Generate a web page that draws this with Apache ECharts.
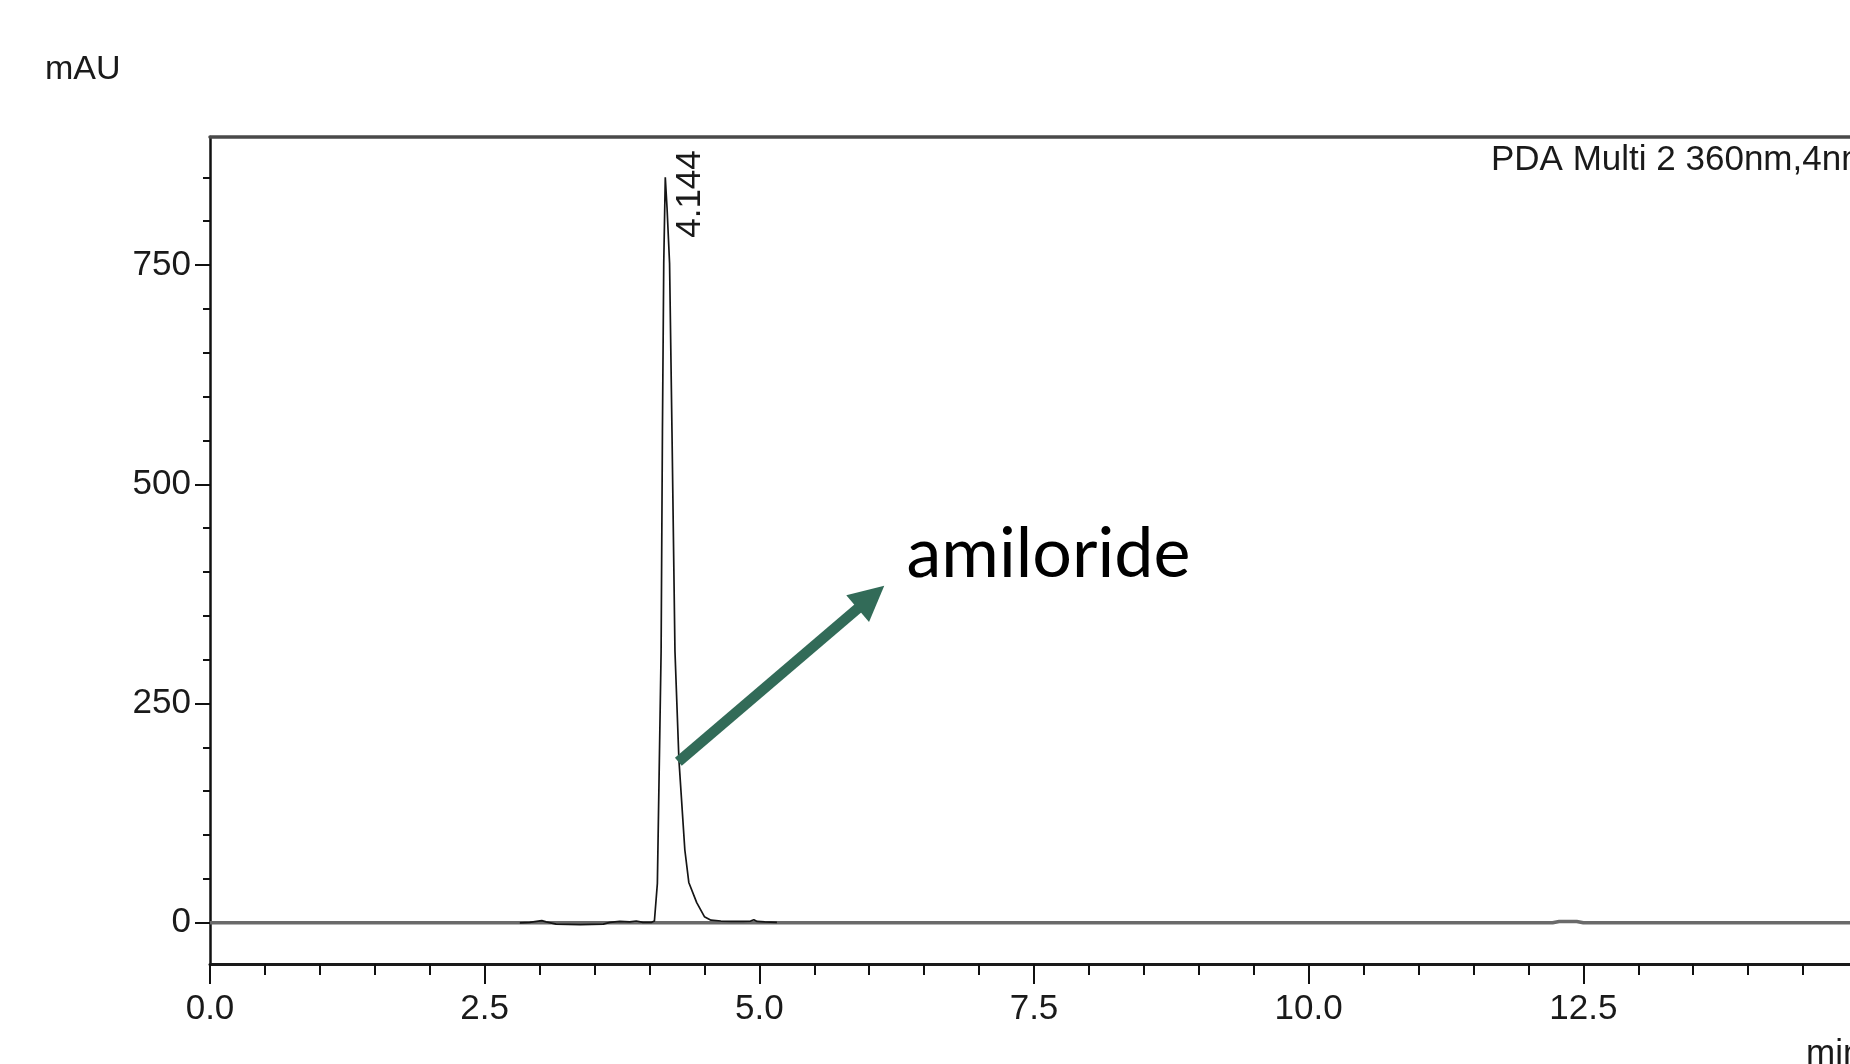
<!DOCTYPE html>
<html>
<head>
<meta charset="utf-8">
<script src="https://cdn.jsdelivr.net/npm/echarts@6/dist/echarts.min.js"></script>
<style>
html,body{margin:0;padding:0;background:#ffffff;}
#chart{width:1850px;height:1064px;}
</style>
</head>
<body>
<div id="chart"></div>
<script>
// ---- data ----
const timeMin = [2.82, 2.91, 3.02, 3.06, 3.15, 3.37, 3.58, 3.64, 3.73, 3.82, 3.88, 3.94, 4.02, 4.045, 4.072, 4.106, 4.118, 4.130, 4.144, 4.160, 4.183, 4.205, 4.232, 4.268, 4.322, 4.358, 4.43, 4.50, 4.56, 4.65, 4.75, 4.85, 4.92, 4.95, 4.98, 5.05, 5.16];
const absorbance = [0, 0.5, 2.5, 1, -1.5, -2, -1.5, 0.5, 1.5, 1, 2, 0.5, 0.5, 2, 45, 310, 560, 752, 850, 815, 752, 560, 310, 186, 83, 46, 23, 7, 3, 2, 1.5, 1.5, 2, 3.5, 1.5, 1, 0.5];
const baselineTime = [0, 12.22, 12.28, 12.44, 12.5, 15];
const baselineValue = [0, 0, 1.5, 1.5, 0, 0];
const yMajorTicks = [0, 250, 500, 750];
const yMinorTicks = [50, 100, 150, 200, 300, 350, 400, 450, 550, 600, 650, 700, 800, 850];
const peakLabel = '4.144';
const peakLabelAt = [4.368, 831];
const compoundName = 'amiloride';
const compoundNameAt = [6.34, 393.7];
const arrowFrom = [4.263, 183.5];
const arrowTo = [6.016, 371.2];
const yUnit = 'mAU';
const xUnit = 'min';
const channelText = 'PDA Multi 2 360nm,4nm';

const FONT = "'Liberation Sans', Arial, sans-serif";
const chart = echarts.init(document.getElementById('chart'), null, {renderer: 'canvas'});

const trace = timeMin.map((t, i) => [t, absorbance[i]]);
const baseline = baselineTime.map((t, i) => [t, baselineValue[i]]);

const labelStyle = {fontFamily: FONT, fontSize: 35, color: '#1a1a1a'};

chart.setOption({
  animation: false,
  backgroundColor: '#ffffff',
  grid: {left: 210, right: -8, top: 137, bottom: 100, containLabel: false, outerBoundsMode: 'none'},
  xAxis: [{
    type: 'value', position: 'bottom', min: 0, max: 15, interval: 2.5,
    axisLine: {show: true, onZero: false, lineStyle: {color: '#1a1a1a', width: 3}},
    axisTick: {show: true, inside: false, length: 20, lineStyle: {color: '#111', width: 2}},
    minorTick: {show: true, splitNumber: 5, length: 11, lineStyle: {color: '#111', width: 2}},
    axisLabel: Object.assign({margin: 28, showMaxLabel: false, formatter: v => v.toFixed(1)}, labelStyle),
    splitLine: {show: false}, minorSplitLine: {show: false}
  }, {
    type: 'value', position: 'top', min: 0, max: 15,
    axisLine: {show: true, onZero: false, lineStyle: {color: '#4a4a4a', width: 3.5}},
    axisTick: {show: false}, axisLabel: {show: false}, splitLine: {show: false}
  }],
  yAxis: [{
    type: 'value', position: 'left', min: -47, max: 896,
    axisLine: {show: true, onZero: false, lineStyle: {color: '#111', width: 2.5}},
    axisTick: {show: true, customValues: yMajorTicks, length: 15, lineStyle: {color: '#111', width: 2}},
    axisLabel: Object.assign({customValues: yMajorTicks, margin: 19, padding: [6, 0, 0, 0]}, labelStyle),
    splitLine: {show: false}
  }, {
    type: 'value', position: 'left', min: -47, max: 896,
    axisLine: {show: false},
    axisTick: {show: true, customValues: yMinorTicks, length: 7, lineStyle: {color: '#111', width: 2}},
    axisLabel: {show: false}, splitLine: {show: false}
  }],
  series: [{
    name: 'baseline', type: 'line', data: baseline, showSymbol: false, silent: true,
    lineStyle: {color: '#6a6a6a', width: 3.5}, z: 2
  }, {
    name: 'PDA 360nm', type: 'line', data: trace, showSymbol: false, silent: true,
    lineStyle: {color: '#151515', width: 1.7}, z: 3,
    markLine: {
      silent: true, animation: false,
      label: {show: false},
      lineStyle: {color: '#326b58', width: 10.5, type: 'solid', cap: 'butt'},
      itemStyle: {color: '#326b58'},
      emphasis: {disabled: true},
      data: [[
        {coord: arrowFrom, symbol: 'none'},
        {coord: arrowTo, symbol: 'triangle', symbolSize: 35}
      ]]
    }
  }]
});

const px = p => chart.convertToPixel({gridIndex: 0}, p);
const pl = px(peakLabelAt);
const cn = px(compoundNameAt);

chart.setOption({
  graphic: [
    {type: 'text', x: 45, y: 70, silent: true,
     style: {text: yUnit, font: "34px " + FONT, fill: '#1a1a1a', align: 'left', verticalAlign: 'middle'}},
    {type: 'text', x: 1491, y: 160, silent: true,
     style: {text: channelText, font: "35px " + FONT, fill: '#1a1a1a', align: 'left', verticalAlign: 'middle'}},
    {type: 'text', x: 1806, y: 1054, silent: true,
     style: {text: xUnit, font: "35px " + FONT, fill: '#1a1a1a', align: 'left', verticalAlign: 'middle'}},
    {type: 'text', x: pl[0], y: pl[1], rotation: Math.PI / 2, silent: true,
     style: {text: peakLabel, font: "35px " + FONT, fill: '#1a1a1a', align: 'center', verticalAlign: 'middle'}},
    {type: 'text', x: cn[0], y: cn[1] - 23, silent: true,
     style: {text: compoundName, font: "70px Lato, 'Open Sans', sans-serif", fill: '#000', align: 'left', verticalAlign: 'middle'}}
  ]
});
</script>
</body>
</html>
